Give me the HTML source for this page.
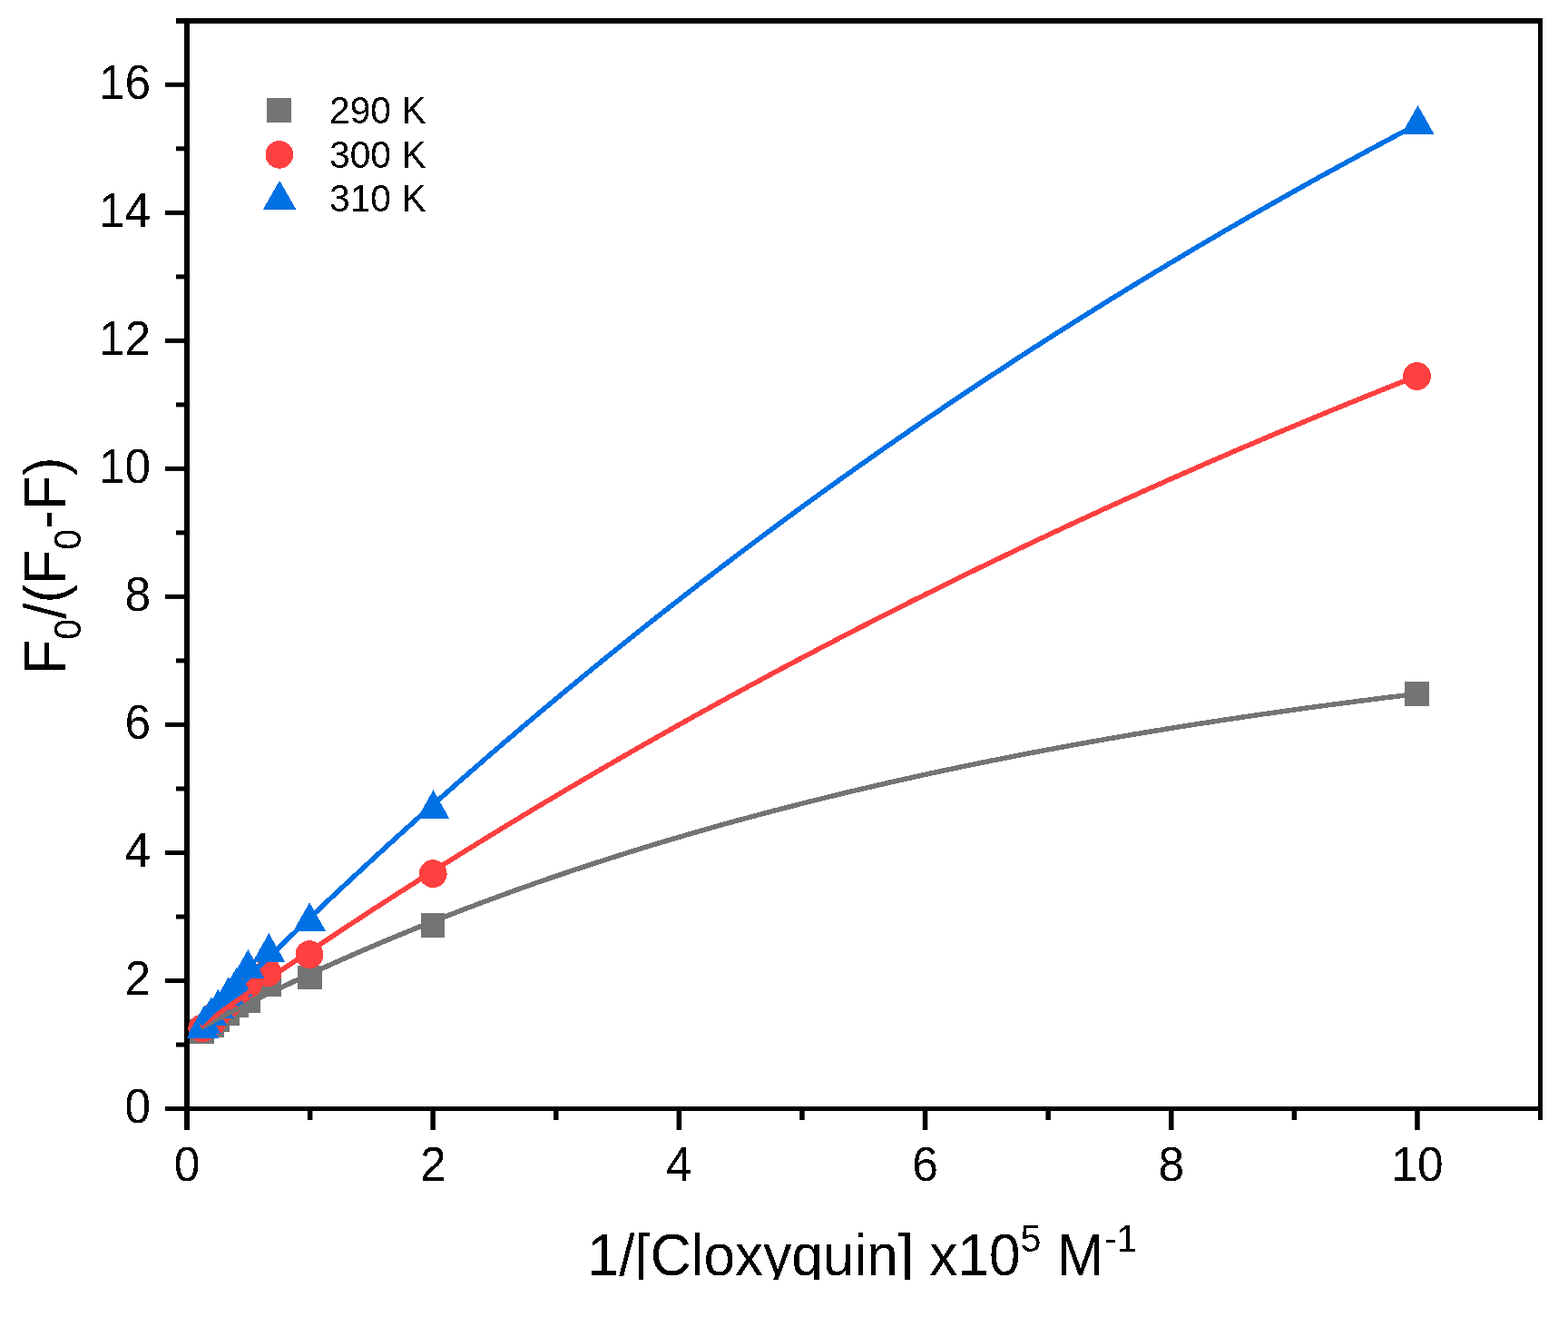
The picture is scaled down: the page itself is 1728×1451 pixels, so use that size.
<!DOCTYPE html>
<html><head><meta charset="utf-8"><title>F0/(F0-F) vs 1/[Cloxyquin]</title>
<style>html,body{margin:0;padding:0;background:#fff;overflow:hidden}svg{display:block}</style></head><body>
<svg width="1728" height="1451" viewBox="0 0 1728 1451" font-family="'Liberation Sans', Arial, sans-serif">
<rect x="0" y="0" width="1728" height="1451" fill="#fff"/>
<defs><filter id="ct" x="-5%" y="-20%" width="110%" height="140%"><feComponentTransfer><feFuncA type="discrete" tableValues="0 1"/></feComponentTransfer></filter></defs>
<g fill="#000">
<rect x="194" y="20" width="1506" height="6"/>
<rect x="182" y="1219" width="1518" height="5"/>
<rect x="203" y="20" width="6" height="1225"/>
<rect x="1695" y="20" width="5" height="1214"/>
<rect x="182" y="1219.0" width="21" height="5"/>
<rect x="194" y="1148.5" width="9" height="5"/>
<rect x="182" y="1078.0" width="21" height="5"/>
<rect x="194" y="1007.5" width="9" height="5"/>
<rect x="182" y="937.0" width="21" height="5"/>
<rect x="194" y="866.5" width="9" height="5"/>
<rect x="182" y="795.9" width="21" height="5"/>
<rect x="194" y="725.4" width="9" height="5"/>
<rect x="182" y="654.9" width="21" height="5"/>
<rect x="194" y="584.4" width="9" height="5"/>
<rect x="182" y="513.9" width="21" height="5"/>
<rect x="194" y="443.4" width="9" height="5"/>
<rect x="182" y="372.9" width="21" height="5"/>
<rect x="194" y="302.4" width="9" height="5"/>
<rect x="182" y="231.9" width="21" height="5"/>
<rect x="194" y="161.3" width="9" height="5"/>
<rect x="182" y="90.8" width="21" height="5"/>
<rect x="338.9" y="1224" width="5.5" height="10"/>
<rect x="474.4" y="1224" width="5.5" height="21"/>
<rect x="610.0" y="1224" width="5.5" height="10"/>
<rect x="745.6" y="1224" width="5.5" height="21"/>
<rect x="881.2" y="1224" width="5.5" height="10"/>
<rect x="1016.8" y="1224" width="5.5" height="21"/>
<rect x="1152.4" y="1224" width="5.5" height="10"/>
<rect x="1288.0" y="1224" width="5.5" height="21"/>
<rect x="1423.6" y="1224" width="5.5" height="10"/>
<rect x="1559.2" y="1224" width="5.5" height="21"/>
</g>
<g id="symbols" shape-rendering="crispEdges">
<rect x="209.0" y="1123.1" width="26.8" height="26.8" fill="#747474"/>
<rect x="220.1" y="1116.1" width="26.8" height="26.8" fill="#747474"/>
<rect x="226.0" y="1109.8" width="26.8" height="26.8" fill="#747474"/>
<rect x="236.9" y="1102.7" width="26.8" height="26.8" fill="#747474"/>
<rect x="247.0" y="1094.6" width="26.8" height="26.8" fill="#747474"/>
<rect x="260.0" y="1088.9" width="26.8" height="26.8" fill="#747474"/>
<rect x="282.9" y="1071.1" width="26.8" height="26.8" fill="#747474"/>
<rect x="328.1" y="1063.6" width="26.8" height="26.8" fill="#747474"/>
<rect x="463.5" y="1006.1" width="26.8" height="26.8" fill="#747474"/>
<rect x="1548.1" y="751.0" width="26.8" height="26.8" fill="#747474"/>
<circle cx="222.7" cy="1133.0" r="15.4" fill="#FF4040"/>
<circle cx="233.6" cy="1126.0" r="15.4" fill="#FF4040"/>
<circle cx="239.9" cy="1116.0" r="15.4" fill="#FF4040"/>
<circle cx="251.2" cy="1106.0" r="15.4" fill="#FF4040"/>
<circle cx="260.2" cy="1096.0" r="15.4" fill="#FF4040"/>
<circle cx="273.8" cy="1084.0" r="15.4" fill="#FF4040"/>
<circle cx="295.1" cy="1071.6" r="15.4" fill="#FF4040"/>
<circle cx="341.0" cy="1051.6" r="15.4" fill="#FF4040"/>
<circle cx="477.2" cy="962.6" r="15.4" fill="#FF4040"/>
<circle cx="1561.5" cy="414.5" r="15.4" fill="#FF4040"/>
<path d="M223.4 1112.8L241.2 1144.3L205.6 1144.3Z" fill="#0071E4"/>
<path d="M225.3 1107.2L243.1 1138.7L207.5 1138.7Z" fill="#0071E4"/>
<path d="M232.6 1098.9L250.4 1130.4L214.8 1130.4Z" fill="#0071E4"/>
<path d="M240.3 1090.1L258.1 1121.6L222.5 1121.6Z" fill="#0071E4"/>
<path d="M251.9 1076.0L269.7 1107.5L234.1 1107.5Z" fill="#0071E4"/>
<path d="M260.5 1066.1L278.3 1097.6L242.7 1097.6Z" fill="#0071E4"/>
<path d="M273.4 1046.0L291.2 1077.5L255.6 1077.5Z" fill="#0071E4"/>
<path d="M296.3 1028.1L314.1 1059.6L278.5 1059.6Z" fill="#0071E4"/>
<path d="M341.1 994.2L358.9 1025.7L323.3 1025.7Z" fill="#0071E4"/>
<path d="M477.5 870.4L495.3 901.9L459.7 901.9Z" fill="#0071E4"/>
<path d="M1562.5 116.0L1580.3 147.5L1544.7 147.5Z" fill="#0071E4"/>
</g>
<g fill="none" stroke-width="5.5" stroke-linejoin="round" shape-rendering="crispEdges">
<polyline stroke="#747474" points="221.3,1132.3 224.7,1130.6 228.0,1128.8 231.4,1127.0 234.8,1125.3 238.1,1123.6 241.5,1121.8 244.8,1120.1 248.2,1118.4 251.6,1116.7 254.9,1115.0 258.3,1113.3 261.6,1111.6 265.0,1109.9 268.4,1108.2 271.7,1106.6 275.1,1104.9 278.4,1103.2 281.8,1101.6 285.2,1099.9 288.5,1098.3 291.9,1096.6 295.2,1095.0 298.6,1093.4 302.0,1091.8 305.3,1090.2 308.7,1088.6 312.0,1087.0 315.4,1085.4 318.8,1083.8 322.1,1082.2 325.5,1080.6 328.8,1079.0 332.2,1077.5 335.6,1075.9 338.9,1074.4 342.3,1072.8 345.6,1071.3 349.0,1069.7 352.4,1068.2 355.7,1066.7 359.1,1065.2 362.4,1063.6 365.8,1062.1 369.2,1060.6 372.5,1059.1 375.9,1057.6 379.2,1056.2 382.6,1054.7 386.0,1053.2 389.3,1051.7 392.7,1050.3 396.0,1048.8 399.4,1047.4 402.8,1045.9 406.1,1044.5 409.5,1043.0 412.8,1041.6 416.2,1040.2 419.6,1038.7 422.9,1037.3 426.3,1035.9 429.6,1034.5 433.0,1033.1 436.4,1031.7 439.7,1030.3 443.1,1028.9 446.4,1027.6 449.8,1026.2 453.2,1024.8 456.5,1023.4 459.9,1022.1 463.2,1020.7 466.6,1019.4 470.0,1018.0 473.3,1016.7 476.7,1015.4 480.0,1014.0 483.4,1012.7 486.8,1011.4 490.1,1010.1 493.5,1008.8 496.9,1007.5 500.2,1006.2 503.6,1004.9 506.9,1003.6 510.3,1002.3 513.7,1001.0 517.0,999.7 520.4,998.5 523.7,997.2 527.1,995.9 530.5,994.7 533.8,993.4 537.2,992.2 540.5,990.9 543.9,989.7 547.3,988.4 550.6,987.2 554.0,986.0 557.3,984.8 560.7,983.6 564.1,982.3 567.4,981.1 570.8,979.9 574.1,978.7 577.5,977.5 580.9,976.3 584.2,975.2 587.6,974.0 590.9,972.8 594.3,971.6 597.7,970.5 601.0,969.3 604.4,968.1 607.7,967.0 611.1,965.8 614.5,964.7 617.8,963.5 621.2,962.4 624.5,961.3 627.9,960.1 631.3,959.0 634.6,957.9 638.0,956.8 641.3,955.7 644.7,954.6 648.1,953.5 651.4,952.4 654.8,951.3 658.1,950.2 661.5,949.1 664.9,948.0 668.2,946.9 671.6,945.8 674.9,944.8 678.3,943.7 681.7,942.6 685.0,941.6 688.4,940.5 691.7,939.5 695.1,938.4 698.5,937.4 701.8,936.3 705.2,935.3 708.5,934.2 711.9,933.2 715.3,932.2 718.6,931.2 722.0,930.1 725.3,929.1 728.7,928.1 732.1,927.1 735.4,926.1 738.8,925.1 742.1,924.1 745.5,923.1 748.9,922.1 752.2,921.2 755.6,920.2 758.9,919.2 762.3,918.2 765.7,917.2 769.0,916.3 772.4,915.3 775.7,914.4 779.1,913.4 782.5,912.4 785.8,911.5 789.2,910.6 792.5,909.6 795.9,908.7 799.3,907.7 802.6,906.8 806.0,905.9 809.3,905.0 812.7,904.0 816.1,903.1 819.4,902.2 822.8,901.3 826.1,900.4 829.5,899.5 832.9,898.6 836.2,897.7 839.6,896.8 842.9,895.9 846.3,895.0 849.7,894.1 853.0,893.2 856.4,892.4 859.7,891.5 863.1,890.6 866.5,889.7 869.8,888.9 873.2,888.0 876.5,887.2 879.9,886.3 883.3,885.4 886.6,884.6 890.0,883.7 893.3,882.9 896.7,882.1 900.1,881.2 903.4,880.4 906.8,879.6 910.1,878.7 913.5,877.9 916.9,877.1 920.2,876.3 923.6,875.5 926.9,874.6 930.3,873.8 933.7,873.0 937.0,872.2 940.4,871.4 943.7,870.6 947.1,869.8 950.5,869.0 953.8,868.3 957.2,867.5 960.5,866.7 963.9,865.9 967.3,865.1 970.6,864.4 974.0,863.6 977.3,862.8 980.7,862.0 984.1,861.3 987.4,860.5 990.8,859.8 994.1,859.0 997.5,858.3 1000.9,857.5 1004.2,856.8 1007.6,856.0 1010.9,855.3 1014.3,854.5 1017.7,853.8 1021.0,853.1 1024.4,852.3 1027.7,851.6 1031.1,850.9 1034.5,850.2 1037.8,849.5 1041.2,848.7 1044.5,848.0 1047.9,847.3 1051.3,846.6 1054.6,845.9 1058.0,845.2 1061.3,844.5 1064.7,843.8 1068.1,843.1 1071.4,842.4 1074.8,841.7 1078.1,841.0 1081.5,840.3 1084.9,839.7 1088.2,839.0 1091.6,838.3 1094.9,837.6 1098.3,837.0 1101.7,836.3 1105.0,835.6 1108.4,835.0 1111.7,834.3 1115.1,833.6 1118.5,833.0 1121.8,832.3 1125.2,831.7 1128.5,831.0 1131.9,830.4 1135.3,829.7 1138.6,829.1 1142.0,828.4 1145.3,827.8 1148.7,827.2 1152.1,826.5 1155.4,825.9 1158.8,825.3 1162.1,824.6 1165.5,824.0 1168.9,823.4 1172.2,822.8 1175.6,822.2 1178.9,821.5 1182.3,820.9 1185.7,820.3 1189.0,819.7 1192.4,819.1 1195.7,818.5 1199.1,817.9 1202.5,817.3 1205.8,816.7 1209.2,816.1 1212.6,815.5 1215.9,814.9 1219.3,814.3 1222.6,813.7 1226.0,813.2 1229.4,812.6 1232.7,812.0 1236.1,811.4 1239.4,810.8 1242.8,810.3 1246.2,809.7 1249.5,809.1 1252.9,808.6 1256.2,808.0 1259.6,807.4 1263.0,806.9 1266.3,806.3 1269.7,805.8 1273.0,805.2 1276.4,804.6 1279.8,804.1 1283.1,803.5 1286.5,803.0 1289.8,802.5 1293.2,801.9 1296.6,801.4 1299.9,800.8 1303.3,800.3 1306.6,799.8 1310.0,799.2 1313.4,798.7 1316.7,798.2 1320.1,797.6 1323.4,797.1 1326.8,796.6 1330.2,796.1 1333.5,795.6 1336.9,795.0 1340.2,794.5 1343.6,794.0 1347.0,793.5 1350.3,793.0 1353.7,792.5 1357.0,792.0 1360.4,791.5 1363.8,791.0 1367.1,790.5 1370.5,790.0 1373.8,789.5 1377.2,789.0 1380.6,788.5 1383.9,788.0 1387.3,787.5 1390.6,787.0 1394.0,786.5 1397.4,786.1 1400.7,785.6 1404.1,785.1 1407.4,784.6 1410.8,784.1 1414.2,783.7 1417.5,783.2 1420.9,782.7 1424.2,782.3 1427.6,781.8 1431.0,781.3 1434.3,780.9 1437.7,780.4 1441.0,779.9 1444.4,779.5 1447.8,779.0 1451.1,778.6 1454.5,778.1 1457.8,777.6 1461.2,777.2 1464.6,776.7 1467.9,776.3 1471.3,775.9 1474.6,775.4 1478.0,775.0 1481.4,774.5 1484.7,774.1 1488.1,773.7 1491.4,773.2 1494.8,772.8 1498.2,772.3 1501.5,771.9 1504.9,771.5 1508.2,771.1 1511.6,770.6 1515.0,770.2 1518.3,769.8 1521.7,769.4 1525.0,768.9 1528.4,768.5 1531.8,768.1 1535.1,767.7 1538.5,767.3 1541.8,766.9 1545.2,766.5 1548.6,766.0 1551.9,765.6 1555.3,765.2 1558.6,764.8 1562.0,764.4"/>
<polyline stroke="#FF4040" points="221.3,1130.4 224.7,1128.1 228.0,1125.7 231.4,1123.3 234.8,1121.0 238.1,1118.6 241.5,1116.3 244.8,1113.9 248.2,1111.6 251.6,1109.3 254.9,1106.9 258.3,1104.6 261.6,1102.3 265.0,1099.9 268.4,1097.6 271.7,1095.3 275.1,1093.0 278.4,1090.7 281.8,1088.4 285.2,1086.1 288.5,1083.8 291.9,1081.5 295.2,1079.2 298.6,1076.9 302.0,1074.6 305.3,1072.3 308.7,1070.0 312.0,1067.7 315.4,1065.5 318.8,1063.2 322.1,1060.9 325.5,1058.7 328.8,1056.4 332.2,1054.2 335.6,1051.9 338.9,1049.6 342.3,1047.4 345.6,1045.2 349.0,1042.9 352.4,1040.7 355.7,1038.4 359.1,1036.2 362.4,1034.0 365.8,1031.8 369.2,1029.5 372.5,1027.3 375.9,1025.1 379.2,1022.9 382.6,1020.7 386.0,1018.5 389.3,1016.3 392.7,1014.1 396.0,1011.9 399.4,1009.7 402.8,1007.5 406.1,1005.3 409.5,1003.1 412.8,1000.9 416.2,998.8 419.6,996.6 422.9,994.4 426.3,992.3 429.6,990.1 433.0,987.9 436.4,985.8 439.7,983.6 443.1,981.5 446.4,979.3 449.8,977.2 453.2,975.0 456.5,972.9 459.9,970.8 463.2,968.6 466.6,966.5 470.0,964.4 473.3,962.2 476.7,960.1 480.0,958.0 483.4,955.9 486.8,953.8 490.1,951.7 493.5,949.6 496.9,947.5 500.2,945.4 503.6,943.3 506.9,941.2 510.3,939.1 513.7,937.0 517.0,934.9 520.4,932.8 523.7,930.8 527.1,928.7 530.5,926.6 533.8,924.5 537.2,922.5 540.5,920.4 543.9,918.4 547.3,916.3 550.6,914.2 554.0,912.2 557.3,910.1 560.7,908.1 564.1,906.1 567.4,904.0 570.8,902.0 574.1,899.9 577.5,897.9 580.9,895.9 584.2,893.9 587.6,891.8 590.9,889.8 594.3,887.8 597.7,885.8 601.0,883.8 604.4,881.8 607.7,879.8 611.1,877.8 614.5,875.8 617.8,873.8 621.2,871.8 624.5,869.8 627.9,867.8 631.3,865.8 634.6,863.9 638.0,861.9 641.3,859.9 644.7,857.9 648.1,856.0 651.4,854.0 654.8,852.0 658.1,850.1 661.5,848.1 664.9,846.2 668.2,844.2 671.6,842.3 674.9,840.3 678.3,838.4 681.7,836.4 685.0,834.5 688.4,832.6 691.7,830.6 695.1,828.7 698.5,826.8 701.8,824.9 705.2,822.9 708.5,821.0 711.9,819.1 715.3,817.2 718.6,815.3 722.0,813.4 725.3,811.5 728.7,809.6 732.1,807.7 735.4,805.8 738.8,803.9 742.1,802.0 745.5,800.1 748.9,798.2 752.2,796.3 755.6,794.5 758.9,792.6 762.3,790.7 765.7,788.8 769.0,787.0 772.4,785.1 775.7,783.2 779.1,781.4 782.5,779.5 785.8,777.7 789.2,775.8 792.5,774.0 795.9,772.1 799.3,770.3 802.6,768.4 806.0,766.6 809.3,764.8 812.7,762.9 816.1,761.1 819.4,759.3 822.8,757.4 826.1,755.6 829.5,753.8 832.9,752.0 836.2,750.2 839.6,748.4 842.9,746.5 846.3,744.7 849.7,742.9 853.0,741.1 856.4,739.3 859.7,737.5 863.1,735.7 866.5,734.0 869.8,732.2 873.2,730.4 876.5,728.6 879.9,726.8 883.3,725.0 886.6,723.3 890.0,721.5 893.3,719.7 896.7,718.0 900.1,716.2 903.4,714.4 906.8,712.7 910.1,710.9 913.5,709.2 916.9,707.4 920.2,705.7 923.6,703.9 926.9,702.2 930.3,700.4 933.7,698.7 937.0,696.9 940.4,695.2 943.7,693.5 947.1,691.7 950.5,690.0 953.8,688.3 957.2,686.6 960.5,684.9 963.9,683.1 967.3,681.4 970.6,679.7 974.0,678.0 977.3,676.3 980.7,674.6 984.1,672.9 987.4,671.2 990.8,669.5 994.1,667.8 997.5,666.1 1000.9,664.4 1004.2,662.7 1007.6,661.0 1010.9,659.4 1014.3,657.7 1017.7,656.0 1021.0,654.3 1024.4,652.7 1027.7,651.0 1031.1,649.3 1034.5,647.7 1037.8,646.0 1041.2,644.3 1044.5,642.7 1047.9,641.0 1051.3,639.4 1054.6,637.7 1058.0,636.1 1061.3,634.4 1064.7,632.8 1068.1,631.1 1071.4,629.5 1074.8,627.9 1078.1,626.2 1081.5,624.6 1084.9,623.0 1088.2,621.3 1091.6,619.7 1094.9,618.1 1098.3,616.5 1101.7,614.9 1105.0,613.2 1108.4,611.6 1111.7,610.0 1115.1,608.4 1118.5,606.8 1121.8,605.2 1125.2,603.6 1128.5,602.0 1131.9,600.4 1135.3,598.8 1138.6,597.2 1142.0,595.6 1145.3,594.0 1148.7,592.5 1152.1,590.9 1155.4,589.3 1158.8,587.7 1162.1,586.1 1165.5,584.6 1168.9,583.0 1172.2,581.4 1175.6,579.9 1178.9,578.3 1182.3,576.7 1185.7,575.2 1189.0,573.6 1192.4,572.1 1195.7,570.5 1199.1,569.0 1202.5,567.4 1205.8,565.9 1209.2,564.3 1212.6,562.8 1215.9,561.2 1219.3,559.7 1222.6,558.2 1226.0,556.6 1229.4,555.1 1232.7,553.6 1236.1,552.1 1239.4,550.5 1242.8,549.0 1246.2,547.5 1249.5,546.0 1252.9,544.5 1256.2,542.9 1259.6,541.4 1263.0,539.9 1266.3,538.4 1269.7,536.9 1273.0,535.4 1276.4,533.9 1279.8,532.4 1283.1,530.9 1286.5,529.4 1289.8,527.9 1293.2,526.5 1296.6,525.0 1299.9,523.5 1303.3,522.0 1306.6,520.5 1310.0,519.0 1313.4,517.6 1316.7,516.1 1320.1,514.6 1323.4,513.2 1326.8,511.7 1330.2,510.2 1333.5,508.8 1336.9,507.3 1340.2,505.8 1343.6,504.4 1347.0,502.9 1350.3,501.5 1353.7,500.0 1357.0,498.6 1360.4,497.1 1363.8,495.7 1367.1,494.2 1370.5,492.8 1373.8,491.4 1377.2,489.9 1380.6,488.5 1383.9,487.1 1387.3,485.6 1390.6,484.2 1394.0,482.8 1397.4,481.4 1400.7,479.9 1404.1,478.5 1407.4,477.1 1410.8,475.7 1414.2,474.3 1417.5,472.9 1420.9,471.5 1424.2,470.1 1427.6,468.7 1431.0,467.3 1434.3,465.9 1437.7,464.5 1441.0,463.1 1444.4,461.7 1447.8,460.3 1451.1,458.9 1454.5,457.5 1457.8,456.1 1461.2,454.7 1464.6,453.3 1467.9,452.0 1471.3,450.6 1474.6,449.2 1478.0,447.8 1481.4,446.5 1484.7,445.1 1488.1,443.7 1491.4,442.4 1494.8,441.0 1498.2,439.6 1501.5,438.3 1504.9,436.9 1508.2,435.6 1511.6,434.2 1515.0,432.9 1518.3,431.5 1521.7,430.2 1525.0,428.8 1528.4,427.5 1531.8,426.1 1535.1,424.8 1538.5,423.4 1541.8,422.1 1545.2,420.8 1548.6,419.4 1551.9,418.1 1555.3,416.8 1558.6,415.5 1562.0,414.1"/>
<polyline stroke="#0071E4" points="221.3,1128.8 224.7,1125.4 228.0,1122.0 231.4,1118.7 234.8,1115.3 238.1,1111.9 241.5,1108.6 244.8,1105.2 248.2,1101.9 251.6,1098.6 254.9,1095.2 258.3,1091.9 261.6,1088.6 265.0,1085.3 268.4,1082.0 271.7,1078.7 275.1,1075.4 278.4,1072.1 281.8,1068.8 285.2,1065.5 288.5,1062.2 291.9,1059.0 295.2,1055.7 298.6,1052.4 302.0,1049.2 305.3,1045.9 308.7,1042.7 312.0,1039.4 315.4,1036.2 318.8,1033.0 322.1,1029.8 325.5,1026.5 328.8,1023.3 332.2,1020.1 335.6,1016.9 338.9,1013.7 342.3,1010.5 345.6,1007.3 349.0,1004.2 352.4,1001.0 355.7,997.8 359.1,994.6 362.4,991.5 365.8,988.3 369.2,985.2 372.5,982.0 375.9,978.9 379.2,975.8 382.6,972.6 386.0,969.5 389.3,966.4 392.7,963.3 396.0,960.2 399.4,957.1 402.8,954.0 406.1,950.9 409.5,947.8 412.8,944.7 416.2,941.6 419.6,938.5 422.9,935.5 426.3,932.4 429.6,929.3 433.0,926.3 436.4,923.2 439.7,920.2 443.1,917.2 446.4,914.1 449.8,911.1 453.2,908.1 456.5,905.1 459.9,902.0 463.2,899.0 466.6,896.0 470.0,893.0 473.3,890.0 476.7,887.0 480.0,884.1 483.4,881.1 486.8,878.1 490.1,875.1 493.5,872.2 496.9,869.2 500.2,866.2 503.6,863.3 506.9,860.3 510.3,857.4 513.7,854.5 517.0,851.5 520.4,848.6 523.7,845.7 527.1,842.8 530.5,839.9 533.8,836.9 537.2,834.0 540.5,831.1 543.9,828.2 547.3,825.4 550.6,822.5 554.0,819.6 557.3,816.7 560.7,813.8 564.1,811.0 567.4,808.1 570.8,805.3 574.1,802.4 577.5,799.6 580.9,796.7 584.2,793.9 587.6,791.1 590.9,788.2 594.3,785.4 597.7,782.6 601.0,779.8 604.4,777.0 607.7,774.1 611.1,771.3 614.5,768.6 617.8,765.8 621.2,763.0 624.5,760.2 627.9,757.4 631.3,754.6 634.6,751.9 638.0,749.1 641.3,746.3 644.7,743.6 648.1,740.8 651.4,738.1 654.8,735.3 658.1,732.6 661.5,729.9 664.9,727.1 668.2,724.4 671.6,721.7 674.9,719.0 678.3,716.3 681.7,713.6 685.0,710.9 688.4,708.2 691.7,705.5 695.1,702.8 698.5,700.1 701.8,697.4 705.2,694.7 708.5,692.1 711.9,689.4 715.3,686.7 718.6,684.1 722.0,681.4 725.3,678.8 728.7,676.1 732.1,673.5 735.4,670.9 738.8,668.2 742.1,665.6 745.5,663.0 748.9,660.4 752.2,657.7 755.6,655.1 758.9,652.5 762.3,649.9 765.7,647.3 769.0,644.7 772.4,642.1 775.7,639.5 779.1,637.0 782.5,634.4 785.8,631.8 789.2,629.2 792.5,626.7 795.9,624.1 799.3,621.6 802.6,619.0 806.0,616.5 809.3,613.9 812.7,611.4 816.1,608.8 819.4,606.3 822.8,603.8 826.1,601.3 829.5,598.7 832.9,596.2 836.2,593.7 839.6,591.2 842.9,588.7 846.3,586.2 849.7,583.7 853.0,581.2 856.4,578.7 859.7,576.3 863.1,573.8 866.5,571.3 869.8,568.8 873.2,566.4 876.5,563.9 879.9,561.4 883.3,559.0 886.6,556.5 890.0,554.1 893.3,551.7 896.7,549.2 900.1,546.8 903.4,544.3 906.8,541.9 910.1,539.5 913.5,537.1 916.9,534.7 920.2,532.3 923.6,529.8 926.9,527.4 930.3,525.0 933.7,522.7 937.0,520.3 940.4,517.9 943.7,515.5 947.1,513.1 950.5,510.7 953.8,508.4 957.2,506.0 960.5,503.6 963.9,501.3 967.3,498.9 970.6,496.6 974.0,494.2 977.3,491.9 980.7,489.5 984.1,487.2 987.4,484.9 990.8,482.5 994.1,480.2 997.5,477.9 1000.9,475.6 1004.2,473.3 1007.6,470.9 1010.9,468.6 1014.3,466.3 1017.7,464.0 1021.0,461.7 1024.4,459.4 1027.7,457.2 1031.1,454.9 1034.5,452.6 1037.8,450.3 1041.2,448.0 1044.5,445.8 1047.9,443.5 1051.3,441.2 1054.6,439.0 1058.0,436.7 1061.3,434.5 1064.7,432.2 1068.1,430.0 1071.4,427.8 1074.8,425.5 1078.1,423.3 1081.5,421.1 1084.9,418.8 1088.2,416.6 1091.6,414.4 1094.9,412.2 1098.3,410.0 1101.7,407.8 1105.0,405.6 1108.4,403.4 1111.7,401.2 1115.1,399.0 1118.5,396.8 1121.8,394.6 1125.2,392.4 1128.5,390.2 1131.9,388.1 1135.3,385.9 1138.6,383.7 1142.0,381.5 1145.3,379.4 1148.7,377.2 1152.1,375.1 1155.4,372.9 1158.8,370.8 1162.1,368.6 1165.5,366.5 1168.9,364.4 1172.2,362.2 1175.6,360.1 1178.9,358.0 1182.3,355.9 1185.7,353.7 1189.0,351.6 1192.4,349.5 1195.7,347.4 1199.1,345.3 1202.5,343.2 1205.8,341.1 1209.2,339.0 1212.6,336.9 1215.9,334.8 1219.3,332.7 1222.6,330.6 1226.0,328.6 1229.4,326.5 1232.7,324.4 1236.1,322.4 1239.4,320.3 1242.8,318.2 1246.2,316.2 1249.5,314.1 1252.9,312.1 1256.2,310.0 1259.6,308.0 1263.0,305.9 1266.3,303.9 1269.7,301.9 1273.0,299.8 1276.4,297.8 1279.8,295.8 1283.1,293.8 1286.5,291.7 1289.8,289.7 1293.2,287.7 1296.6,285.7 1299.9,283.7 1303.3,281.7 1306.6,279.7 1310.0,277.7 1313.4,275.7 1316.7,273.7 1320.1,271.7 1323.4,269.8 1326.8,267.8 1330.2,265.8 1333.5,263.8 1336.9,261.9 1340.2,259.9 1343.6,257.9 1347.0,256.0 1350.3,254.0 1353.7,252.1 1357.0,250.1 1360.4,248.2 1363.8,246.2 1367.1,244.3 1370.5,242.4 1373.8,240.4 1377.2,238.5 1380.6,236.6 1383.9,234.6 1387.3,232.7 1390.6,230.8 1394.0,228.9 1397.4,227.0 1400.7,225.1 1404.1,223.2 1407.4,221.3 1410.8,219.4 1414.2,217.5 1417.5,215.6 1420.9,213.7 1424.2,211.8 1427.6,209.9 1431.0,208.0 1434.3,206.1 1437.7,204.3 1441.0,202.4 1444.4,200.5 1447.8,198.7 1451.1,196.8 1454.5,194.9 1457.8,193.1 1461.2,191.2 1464.6,189.4 1467.9,187.5 1471.3,185.7 1474.6,183.9 1478.0,182.0 1481.4,180.2 1484.7,178.3 1488.1,176.5 1491.4,174.7 1494.8,172.9 1498.2,171.0 1501.5,169.2 1504.9,167.4 1508.2,165.6 1511.6,163.8 1515.0,162.0 1518.3,160.2 1521.7,158.4 1525.0,156.6 1528.4,154.8 1531.8,153.0 1535.1,151.2 1538.5,149.4 1541.8,147.6 1545.2,145.9 1548.6,144.1 1551.9,142.3 1555.3,140.5 1558.6,138.8 1562.0,137.0"/>
</g>
<g font-size="51.4" fill="#000" filter="url(#ct)">
<text transform="translate(166.2,1237.0) scale(1,1.04)" text-anchor="end">0</text>
<text transform="translate(166.2,1096.0) scale(1,1.04)" text-anchor="end">2</text>
<text transform="translate(166.2,955.0) scale(1,1.04)" text-anchor="end">4</text>
<text transform="translate(166.2,813.9) scale(1,1.04)" text-anchor="end">6</text>
<text transform="translate(166.2,672.9) scale(1,1.04)" text-anchor="end">8</text>
<text transform="translate(166.2,531.9) scale(1,1.04)" text-anchor="end">10</text>
<text transform="translate(166.2,390.9) scale(1,1.04)" text-anchor="end">12</text>
<text transform="translate(166.2,249.9) scale(1,1.04)" text-anchor="end">14</text>
<text transform="translate(166.2,108.8) scale(1,1.04)" text-anchor="end">16</text>
<text transform="translate(206.0,1300.7) scale(1,1.04)" text-anchor="middle">0</text>
<text transform="translate(477.2,1300.7) scale(1,1.04)" text-anchor="middle">2</text>
<text transform="translate(748.4,1300.7) scale(1,1.04)" text-anchor="middle">4</text>
<text transform="translate(1019.6,1300.7) scale(1,1.04)" text-anchor="middle">6</text>
<text transform="translate(1290.8,1300.7) scale(1,1.04)" text-anchor="middle">8</text>
<text transform="translate(1562.0,1300.7) scale(1,1.04)" text-anchor="middle">10</text>
</g>
<defs><clipPath id="cb"><rect x="0" y="0" width="1728" height="1410"/></clipPath></defs>
<g clip-path="url(#cb)"><g filter="url(#ct)"><text transform="translate(647.6,1405.2) scale(1,1.04)" font-size="62.2">1/[Cloxyquin] x10<tspan font-size="41.3" dy="-25.38">5</tspan><tspan dy="25.38"> M</tspan><tspan font-size="41.3" dy="-25.38">-1</tspan></text></g></g>
<g filter="url(#ct)"><text transform="translate(72,742.7) rotate(-90) scale(1,1.04)" font-size="62.2">F<tspan font-size="41.3" dy="15.96">0</tspan><tspan dy="-15.96">/(F</tspan><tspan font-size="41.3" dy="15.96">0</tspan><tspan dy="-15.96">-F)</tspan></text></g>
<g shape-rendering="crispEdges">
<rect x="293.9" y="107.9" width="27.2" height="27.2" fill="#747474"/>
<circle cx="307.9" cy="170.4" r="15.3" fill="#FF4040"/>
<path d="M308.1 198.9L326.2 230.6L290.0 230.6Z" fill="#0071E4"/>
</g>
<g font-size="40.8" fill="#000" filter="url(#ct)">
<text transform="translate(363,135.7) scale(1,1.04)">290 K</text>
<text transform="translate(363,184.7) scale(1,1.04)">300 K</text>
<text transform="translate(363,232.8) scale(1,1.04)">310 K</text>
</g>
</svg></body></html>
